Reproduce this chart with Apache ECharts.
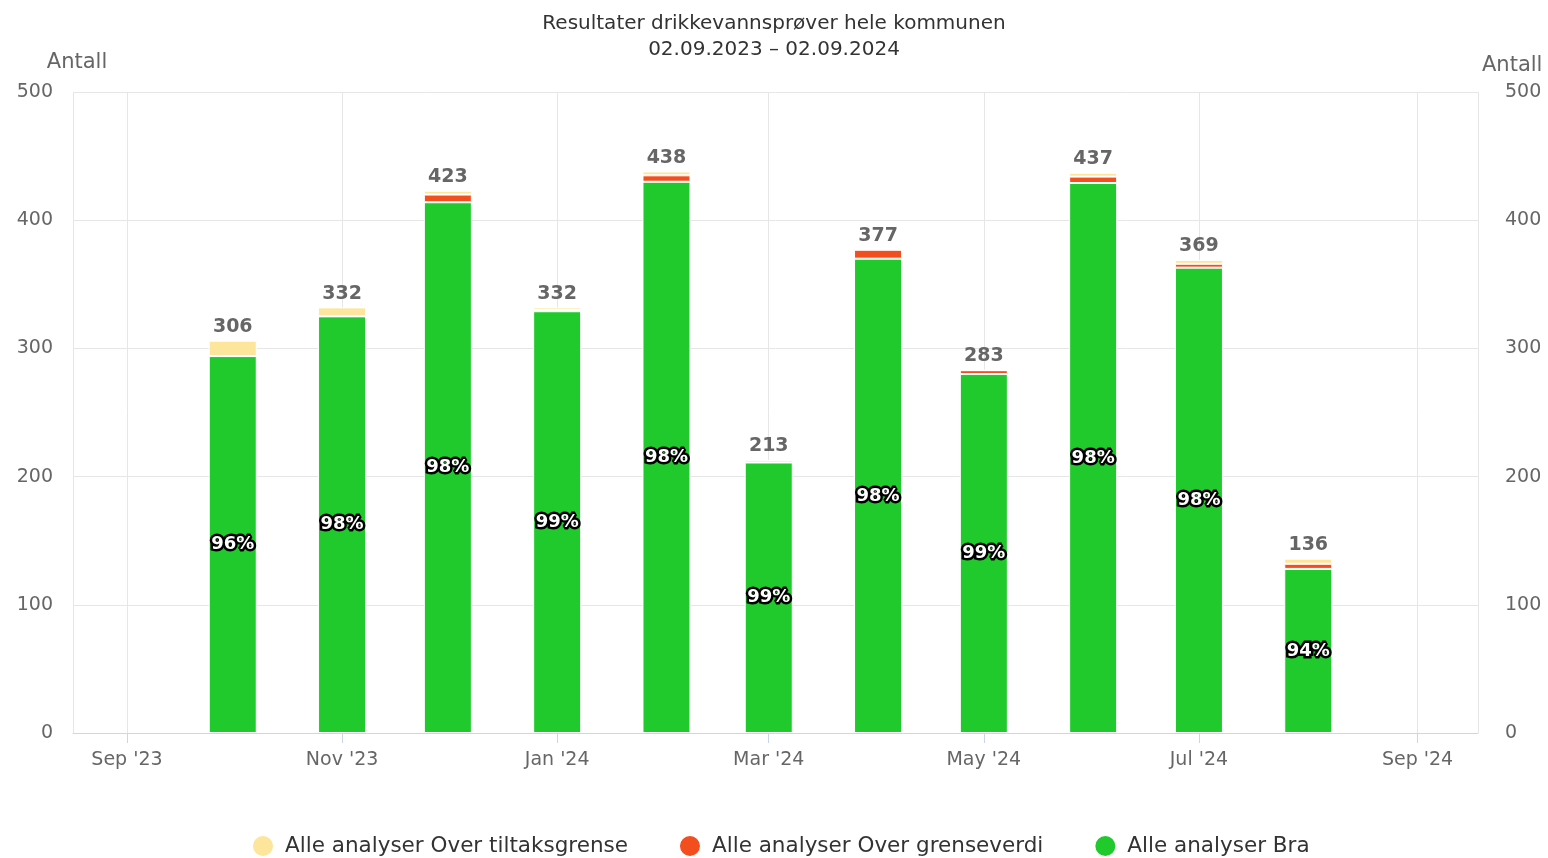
<!DOCTYPE html>
<html>
<head>
<meta charset="utf-8">
<script src="https://cdn.jsdelivr.net/npm/echarts@6/dist/echarts.min.js"></script>
<style>
  html, body { margin: 0; padding: 0; background: #fff; }
  #chart { width: 1548px; height: 858px; }
</style>
</head>
<body>
<div id="chart"></div>
<script>
// months (year, month index) of each bar
var months = [[2023, 9], [2023, 10], [2023, 11], [2024, 0], [2024, 1], [2024, 2],
              [2024, 3], [2024, 4], [2024, 5], [2024, 6], [2024, 7]];
var bra = [294, 325, 414, 329, 430, 211, 370, 280, 429, 363, 128];
var overGrense = [0, 0, 6, 1, 5, 0, 7, 3, 5, 3, 4];
var overTiltak = [12, 7, 3, 2, 3, 2, 0, 0, 3, 3, 4];
var totals = [306, 332, 423, 332, 438, 213, 377, 283, 437, 369, 136];
var percents = [96, 98, 98, 99, 98, 99, 98, 99, 98, 98, 94];
var monthNames = ['Jan', 'Feb', 'Mar', 'Apr', 'May', 'Jun', 'Jul', 'Aug', 'Sep', 'Oct', 'Nov', 'Dec'];

var font = 'DejaVu Sans';

function pairs(vals) {
  return vals.map(function (v, i) {
    return [new Date(months[i][0], months[i][1], 1).getTime(), v];
  });
}

var myChart = echarts.init(document.getElementById('chart'));

var common = {
  type: 'bar',
  stack: 'total',
  barWidth: 48,
  itemStyle: { borderColor: '#fff', borderWidth: 1 }
};

myChart.setOption({
  animation: false,
  color: ['#fde59b', '#f24e1e', '#20c92c'],
  title: {
    text: 'Resultater drikkevannsprøver hele kommunen',
    subtext: '02.09.2023 – 02.09.2024',
    left: 'center',
    top: 9,
    itemGap: 6,
    textStyle: { fontFamily: font, fontSize: 20, fontWeight: 'normal', color: '#333' },
    subtextStyle: { fontFamily: font, fontSize: 20, color: '#333' }
  },
  legend: {
    top: 829,
    left: 246,
    icon: 'circle',
    itemWidth: 22,
    itemHeight: 22,
    itemGap: 50,
    textStyle: { fontFamily: font, fontSize: 21.5, color: '#333', padding: [0, 0, 0, 6] },
    data: ['Alle analyser Over tiltaksgrense', 'Alle analyser Over grenseverdi', 'Alle analyser Bra']
  },
  grid: { left: 73, right: 70, top: 92, bottom: 125 },
  xAxis: {
    type: 'time',
    // ECharts widens a bar axis by half a bar on each side, so these are set a bit inside
    min: new Date(2023, 7, 23, 12).getTime(),
    max: new Date(2024, 8, 11, 8).getTime(),
    splitNumber: 5,
    axisLine: { lineStyle: { color: '#ccd6eb' } },
    axisTick: { show: true, length: 10, lineStyle: { color: '#ccd6eb' } },
    splitLine: { show: true, lineStyle: { color: '#e6e6e6' } },
    axisLabel: {
      fontFamily: font, fontSize: 19, color: '#666', margin: 18,
      formatter: function (value) {
        var d = new Date(value);
        if (d.getDate() !== 1) return '';
        return monthNames[d.getMonth()] + " '" + String(d.getFullYear()).slice(2);
      }
    }
  },
  yAxis: [
    {
      type: 'value', min: 0, max: 500, interval: 100,
      name: 'Antall', nameLocation: 'end', nameGap: 19,
      nameTextStyle: { fontFamily: font, fontSize: 21, color: '#666', padding: [0, 0, 0, 8] },
      axisLabel: { fontFamily: font, fontSize: 19, color: '#666', margin: 20 },
      splitLine: { lineStyle: { color: '#e6e6e6' } }
    },
    {
      type: 'value', min: 0, max: 500, interval: 100, position: 'right',
      name: 'Antall', nameLocation: 'end', nameGap: 16,
      nameTextStyle: { fontFamily: font, fontSize: 21, color: '#666', align: 'left', padding: [0, 0, 0, 4] },
      axisLabel: { fontFamily: font, fontSize: 19, color: '#666', margin: 27 },
      splitLine: { show: false }
    }
  ],
  series: [
    Object.assign({}, common, {
      name: 'Alle analyser Bra',
      color: '#20c92c',
      data: pairs(bra),
      label: {
        show: true, position: 'inside',
        formatter: function (p) { return percents[p.dataIndex] + '%'; },
        fontFamily: font, fontSize: 18, fontWeight: 'bold', color: '#fff',
        textBorderColor: '#000', textBorderWidth: 5
      }
    }),
    Object.assign({}, common, {
      name: 'Alle analyser Over grenseverdi',
      color: '#f24e1e',
      data: pairs(overGrense)
    }),
    Object.assign({}, common, {
      name: 'Alle analyser Over tiltaksgrense',
      color: '#fde59b',
      data: pairs(overTiltak),
      label: {
        show: true, position: 'top', distance: 4,
        formatter: function (p) { return totals[p.dataIndex]; },
        fontFamily: font, fontSize: 19, fontWeight: 'bold', color: '#666'
      }
    })
  ]
});

window.addEventListener('resize', function () {
  myChart.resize();
});
</script>
</body>
</html>
